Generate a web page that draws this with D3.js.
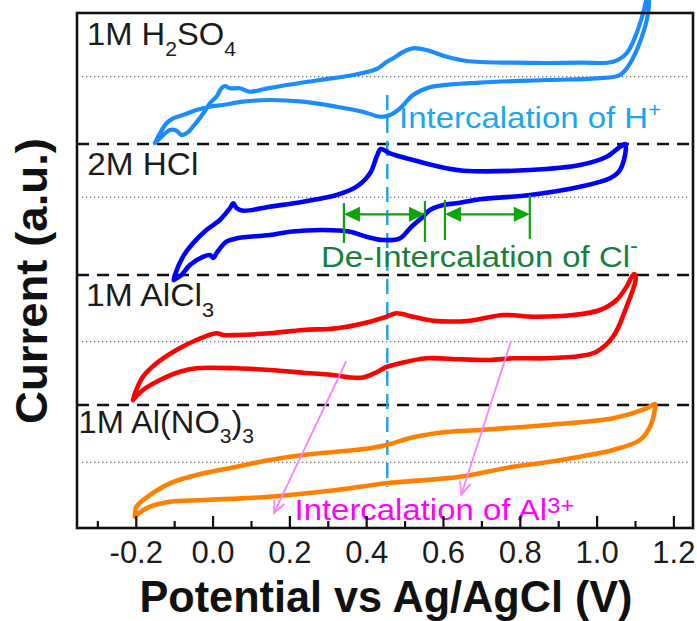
<!DOCTYPE html>
<html>
<head>
<meta charset="utf-8">
<script src="https://cdn.jsdelivr.net/npm/d3@7"></script>
<style>
  html, body { margin: 0; padding: 0; background: #fff; }
  svg { display: block; font-family: "Liberation Sans", Arial, sans-serif; }
</style>
</head>
<body>
<svg id="chart" width="697" height="621"></svg>
<script>
// Cyclic voltammograms of graphite in four electrolytes.
// Each loop: [potential (V vs Ag/AgCl), current (a.u., relative to the trace's zero line)]
const h2so4Loop = [
  [-0.150,-0.663],[-0.133,-0.600],[-0.111,-0.533],[-0.094,-0.540],[-0.081,-0.583],[-0.068,-0.566],
  [-0.051,-0.500],[-0.024,-0.366],[-0.007,-0.266],[0.010,-0.200],[0.023,-0.116],[0.032,-0.093],
  [0.045,-0.116],[0.071,-0.116],[0.097,-0.150],[0.132,-0.126],[0.193,-0.083],[0.280,-0.033],
  [0.366,0.017],[0.427,0.077],[0.453,0.147],[0.470,0.184],[0.496,0.247],[0.522,0.284],
  [0.557,0.267],[0.609,0.200],[0.661,0.157],[0.783,0.140],[0.957,0.140],[1.043,0.150],
  [1.078,0.234],[1.104,0.434],[1.121,0.634],[1.136,0.860],
  [1.134,0.634],[1.115,0.367],[1.087,0.134],[1.061,0.017],[1.000,-0.016],[0.870,-0.033],
  [0.696,-0.060],[0.566,-0.106],[0.522,-0.183],[0.488,-0.316],[0.462,-0.383],[0.436,-0.400],
  [0.391,-0.350],[0.323,-0.300],[0.235,-0.250],[0.149,-0.233],[0.079,-0.250],[0.027,-0.283],
  [-0.007,-0.300],[-0.042,-0.333],[-0.077,-0.383],[-0.103,-0.416],[-0.120,-0.466],[-0.137,-0.566],
  [-0.150,-0.663]
];
const hclLoop = [
  [-0.101,-0.827],[-0.098,-0.777],[-0.077,-0.594],[-0.051,-0.460],[-0.016,-0.327],[0.019,-0.227],
  [0.045,-0.110],[0.054,-0.060],[0.063,-0.110],[0.080,-0.134],[0.149,-0.094],[0.236,-0.044],
  [0.323,0.023],[0.375,0.106],[0.410,0.240],[0.428,0.413],[0.438,0.483],[0.462,0.440],
  [0.522,0.373],[0.609,0.290],[0.653,0.266],[0.826,0.273],[0.957,0.323],[1.026,0.406],
  [1.061,0.506],[1.074,0.533],
  [1.076,0.473],[1.061,0.273],[1.035,0.190],[0.957,0.106],[0.826,0.023],[0.696,-0.020],
  [0.635,-0.060],[0.601,-0.077],[0.566,-0.127],[0.548,-0.194],[0.514,-0.310],[0.488,-0.410],
  [0.444,-0.427],[0.401,-0.394],[0.358,-0.344],[0.288,-0.327],[0.201,-0.344],[0.149,-0.377],
  [0.063,-0.410],[0.036,-0.444],[0.010,-0.560],[0.002,-0.607],[-0.007,-0.577],[-0.024,-0.594],
  [-0.059,-0.677],[-0.081,-0.777],[-0.101,-0.827]
];
const alcl3Loop = [
  [-0.207,-0.583],[-0.202,-0.516],[-0.181,-0.350],[-0.146,-0.216],[-0.094,-0.083],[-0.042,0.017],
  [0.010,0.084],[0.028,0.067],[0.063,0.067],[0.149,0.084],[0.236,0.117],[0.323,0.134],
  [0.410,0.200],[0.453,0.250],[0.479,0.284],[0.522,0.250],[0.574,0.210],[0.670,0.210],
  [0.757,0.267],[0.835,0.250],[0.939,0.267],[1.009,0.317],[1.052,0.417],[1.078,0.550],
  [1.097,0.677],
  [1.102,0.637],[1.078,0.350],[1.043,0.050],[1.000,-0.100],[0.957,-0.143],[0.870,-0.166],
  [0.783,-0.166],[0.722,-0.183],[0.644,-0.176],[0.557,-0.166],[0.488,-0.216],[0.453,-0.253],
  [0.423,-0.313],[0.391,-0.358],[0.358,-0.358],[0.323,-0.338],[0.236,-0.310],[0.149,-0.283],
  [0.063,-0.266],[-0.042,-0.266],[-0.085,-0.300],[-0.137,-0.383],[-0.181,-0.483],[-0.207,-0.583]
];
const alno3Loop = [
  [-0.202,-0.544],[-0.198,-0.444],[-0.163,-0.327],[-0.111,-0.210],[-0.024,-0.110],[0.063,-0.044],
  [0.149,0.023],[0.236,0.073],[0.323,0.106],[0.410,0.140],[0.462,0.183],[0.522,0.250],
  [0.609,0.303],[0.696,0.323],[0.870,0.373],[1.043,0.440],[1.130,0.540],[1.152,0.583],
  [1.152,0.540],[1.139,0.356],[1.113,0.223],[1.043,0.123],[0.957,0.056],[0.852,-0.010],
  [0.783,-0.044],[0.644,-0.144],[0.453,-0.210],[0.323,-0.277],[0.149,-0.344],[-0.024,-0.377],
  [-0.111,-0.394],[-0.163,-0.444],[-0.198,-0.527],[-0.202,-0.544]
];

// vertical stacking of the four traces (a.u.) and the dashed dividers between them
const traceOffsets = [4.513, 3.307, 1.863, 0.657];
const dividerLevels = [3.84, 2.53, 1.23];

// potential axis ticks
const majorTicks = [-0.2, 0.0, 0.2, 0.4, 0.6, 0.8, 1.0, 1.2];
const tickLabels = ["-0.2", "0.0", "0.2", "0.4", "0.6", "0.8", "1.0", "1.2"];
const minorTicks = [-0.3, -0.1, 0.1, 0.3, 0.5, 0.7, 0.9, 1.1];

// potential windows marked for Cl- de-intercalation, and the H+ intercalation potential
const clWindows = [[0.342, 0.553], [0.605, 0.826]];
const hPlusPotential = 0.455;

const svg = d3.select("#chart");
const plotLeft = 77, plotRight = 693, plotTop = 13, plotBottom = 528;

const x = d3.scaleLinear().domain([-0.353, 1.251]).range([plotLeft, plotRight]);
const y = d3.scaleLinear().domain([0, 5.15]).range([plotBottom, plotTop]);

// zero-current reference lines
svg.append("g").selectAll("line").data(traceOffsets).join("line")
  .attr("x1", 82).attr("x2", 688)
  .attr("y1", d => y(d)).attr("y2", d => y(d))
  .attr("stroke", "#444").attr("stroke-width", 1.1)
  .attr("stroke-dasharray", "1.3,2.7");

// dashed dividers
svg.append("g").selectAll("line").data(dividerLevels).join("line")
  .attr("x1", plotLeft).attr("x2", plotRight)
  .attr("y1", d => y(d)).attr("y2", d => y(d))
  .attr("stroke", "#111").attr("stroke-width", 2.6)
  .attr("stroke-dasharray", "12,8");

// H+ intercalation potential marker
svg.append("line")
  .attr("x1", x(hPlusPotential)).attr("x2", x(hPlusPotential))
  .attr("y1", y(4.33)).attr("y2", y(0.41))
  .attr("stroke", "#1aa3e8").attr("stroke-width", 2.4)
  .attr("stroke-dasharray", "15,8");

// voltammograms
const loops = [h2so4Loop, hclLoop, alcl3Loop, alno3Loop];
const colors = ["#1a8cff", "#0000ff", "#ff0000", "#ff8000"];
const widths = [4.2, 4.6, 4.6, 4.6];
loops.forEach((loop, i) => {
  const line = d3.line()
    .x(d => x(d[0]))
    .y(d => y(d[1] + traceOffsets[i]))
    .curve(d3.curveCatmullRom.alpha(0.5));
  svg.append("path")
    .attr("d", line(loop))
    .attr("fill", "none")
    .attr("stroke", colors[i])
    .attr("stroke-width", widths[i])
    .attr("stroke-linejoin", "round")
    .attr("stroke-linecap", "round");
});

// text with sub/superscripts
function richText(parent, px, py, parts, o) {
  const t = parent.append("text").attr("x", px).attr("y", py)
    .attr("font-size", o.size).attr("fill", o.fill);
  let shift = 0;
  parts.forEach(p => {
    const s = p.sub ? o.subShift : p.sup ? o.supShift : 0;
    t.append("tspan")
      .attr("dy", s - shift)
      .attr("font-size", (p.sub || p.sup) ? o.small : o.size)
      .text(p.t);
    shift = s;
  });
  if (o.length) t.attr("textLength", o.length).attr("lengthAdjust", "spacingAndGlyphs");
  return t;
}

// electrolyte labels
const lab = { size: 31, small: 20, subShift: 11, fill: "#1c1c1c" };
richText(svg, 87, 45, [{t: "1M H"}, {t: "2", sub: true}, {t: "SO"}, {t: "4", sub: true}], {...lab, length: 149});
richText(svg, 87.3, 175, [{t: "2M HCl"}], {...lab, length: 111});
richText(svg, 86, 306, [{t: "1M AlCl"}, {t: "3", sub: true}], {...lab, length: 128});
richText(svg, 78.5, 433.3, [{t: "1M Al(NO"}, {t: "3", sub: true}, {t: ")"}, {t: "3", sub: true}], {...lab, subShift: 10, length: 175.5});

// annotations
richText(svg, 399, 128.3, [{t: "Intercalation of H"}, {t: "+", sup: true}],
  { size: 30, small: 20, supShift: -11, fill: "#1aa7ee", length: 262 });

const green = "#0aa50a";
const gCl = svg.append("g");
const arrowY = y(traceOffsets[1] - 0.17);
const barTops = [[-0.057, -0.037], [-0.027, 0.023]];
const barBottoms = [[-0.457, -0.447], [-0.427, -0.417]];
clWindows.forEach(([a, b], i) => {
  const x1 = x(a), x2 = x(b);
  gCl.append("line").attr("x1", x1 + 4).attr("x2", x2 - 4)
    .attr("y1", arrowY).attr("y2", arrowY)
    .attr("stroke", green).attr("stroke-width", 2.2);
  gCl.append("path").attr("d", `M${x1},${arrowY}L${x1 + 16},${arrowY - 7.5}L${x1 + 16},${arrowY + 7.5}Z`).attr("fill", green);
  gCl.append("path").attr("d", `M${x2},${arrowY}L${x2 - 16},${arrowY - 7.5}L${x2 - 16},${arrowY + 7.5}Z`).attr("fill", green);
  [a, b].forEach((v, j) => {
    gCl.append("line").attr("x1", x(v)).attr("x2", x(v))
      .attr("y1", y(traceOffsets[1] + barTops[i][j]))
      .attr("y2", y(traceOffsets[1] + barBottoms[i][j]))
      .attr("stroke", green).attr("stroke-width", 2.2);
  });
});
richText(svg, 321, 266.7, [{t: "De-Intercalation of Cl"}, {t: "-", sup: true}],
  { size: 30, small: 22, supShift: -14, fill: "#17803c", length: 317 });

// Al3+ arrows
const pink = "#ff80ff";
const al3Arrows = [[[0.347, 1.66], [0.160, 0.15]], [[0.777, 1.865], [0.648, 0.337]]];
const gAl = svg.append("g").attr("stroke", pink).attr("stroke-width", 1.8).attr("fill", "none")
  .attr("stroke-linecap", "round");
al3Arrows.forEach(([s, e]) => {
  const x0 = x(s[0]), y0 = y(s[1]), x1 = x(e[0]), y1 = y(e[1]);
  gAl.append("line").attr("x1", x0).attr("y1", y0).attr("x2", x1).attr("y2", y1);
  const ang = Math.atan2(y0 - y1, x0 - x1), len = 13, spread = 0.42;
  const p1 = [x1 + len * Math.cos(ang - spread), y1 + len * Math.sin(ang - spread)];
  const p2 = [x1 + len * Math.cos(ang + spread), y1 + len * Math.sin(ang + spread)];
  gAl.append("path").attr("d", `M${p1}L${x1},${y1}L${p2}`);
});
richText(svg, 294.5, 520, [{t: "Intercalation of Al"}, {t: "3+", sup: true}],
  { size: 30, small: 22, supShift: -7, fill: "#ff00ff", length: 280 });

// frame
svg.append("rect").attr("x", plotLeft).attr("y", plotTop)
  .attr("width", plotRight - plotLeft).attr("height", plotBottom - plotTop)
  .attr("fill", "none").attr("stroke", "#111").attr("stroke-width", 2.6);

// potential axis
const axisMajor = d3.axisBottom(x).tickValues(majorTicks).tickSize(-12).tickPadding(13)
  .tickFormat((d, i) => tickLabels[i]);
const gx = svg.append("g").attr("transform", `translate(0,${plotBottom})`).call(axisMajor);
gx.select(".domain").remove();
gx.selectAll(".tick line").attr("stroke", "#111").attr("stroke-width", 2.2);
gx.selectAll(".tick text").attr("font-size", 31).attr("fill", "#1c1c1c")
  .attr("font-family", "Liberation Sans, Arial, sans-serif");

const axisMinor = d3.axisBottom(x).tickValues(minorTicks).tickSize(-7).tickFormat("");
const gm = svg.append("g").attr("transform", `translate(0,${plotBottom})`).call(axisMinor);
gm.select(".domain").remove();
gm.selectAll(".tick line").attr("stroke", "#111").attr("stroke-width", 2.2);

// axis titles
svg.append("text").attr("x", 386).attr("y", 612)
  .attr("text-anchor", "middle").attr("font-size", 44).attr("font-weight", "bold")
  .attr("fill", "#111").attr("textLength", 493).attr("lengthAdjust", "spacingAndGlyphs")
  .text("Potential vs Ag/AgCl (V)");

svg.append("text").attr("transform", "translate(47,281) rotate(-90)")
  .attr("text-anchor", "middle").attr("font-size", 44).attr("font-weight", "bold")
  .attr("fill", "#111").attr("textLength", 286).attr("lengthAdjust", "spacingAndGlyphs")
  .text("Current (a.u.)");
</script>
</body>
</html>
